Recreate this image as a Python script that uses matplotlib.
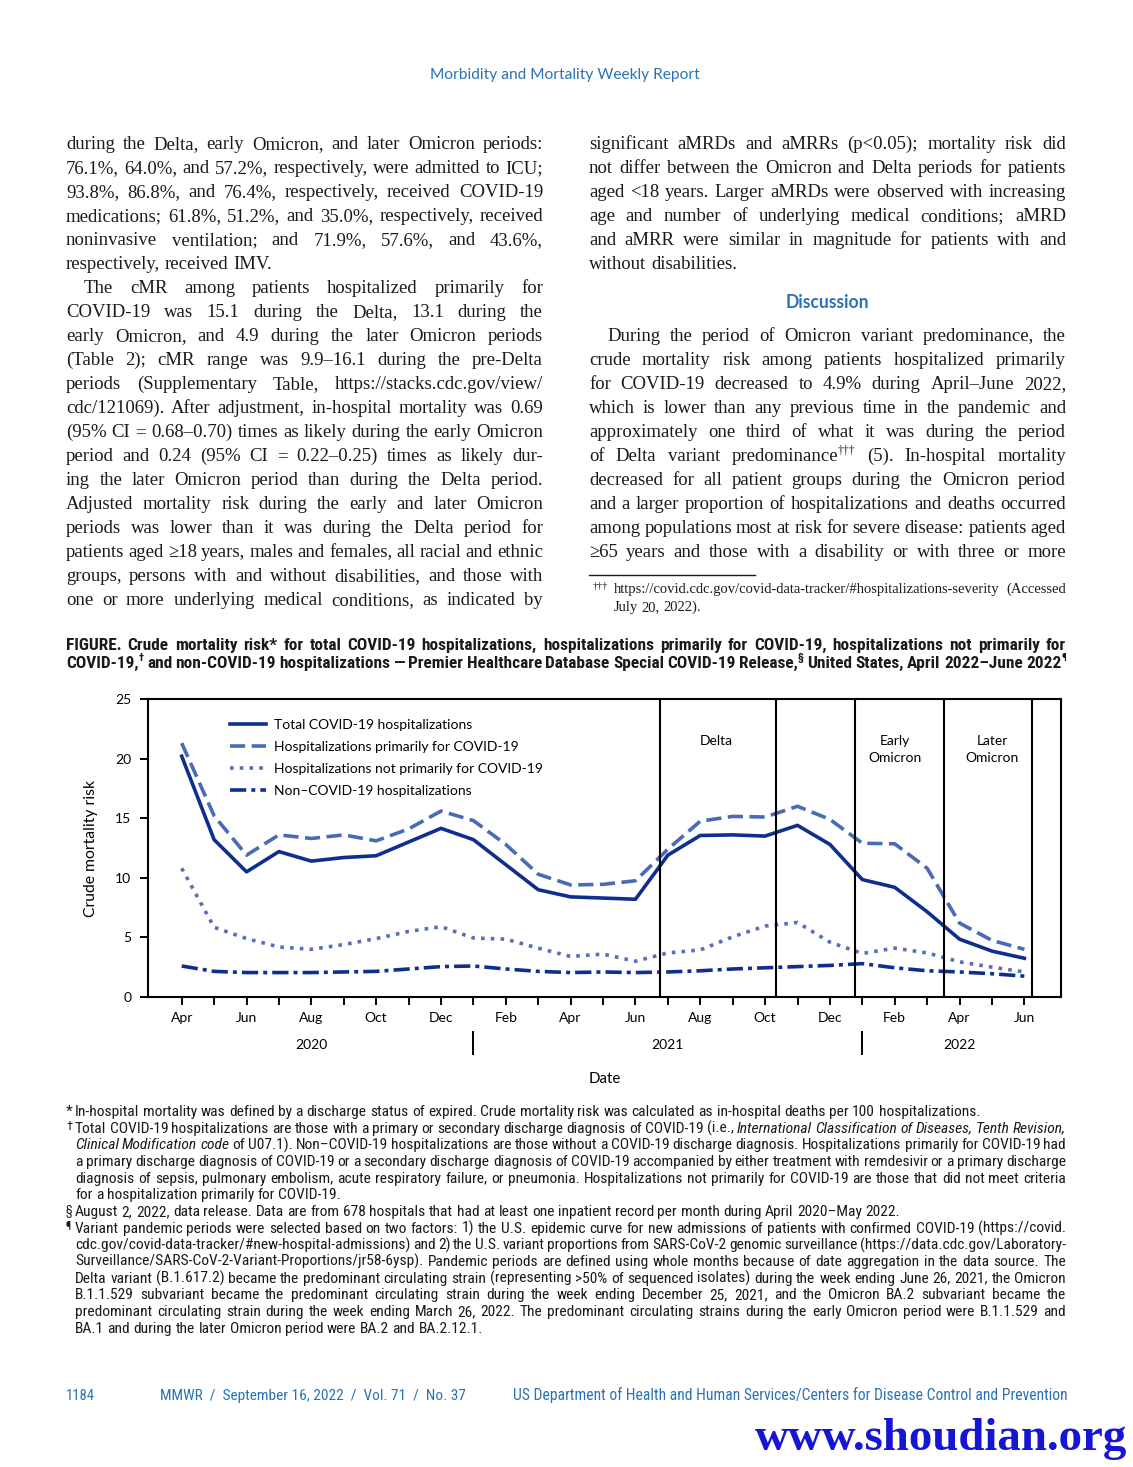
import numpy as np
import matplotlib
matplotlib.use("Agg")
import matplotlib.pyplot as plt
from matplotlib import font_manager as fm
from matplotlib.font_manager import FontProperties

# ---- chart data (monthly Apr 2020 - Jun 2022) ----
month_labels = ["Apr", "May", "Jun", "Jul", "Aug", "Sep", "Oct", "Nov", "Dec", "Jan", "Feb", "Mar",
                "Apr", "May", "Jun", "Jul", "Aug", "Sep", "Oct", "Nov", "Dec", "Jan", "Feb", "Mar",
                "Apr", "May", "Jun"]
total = [20.2, 13.2, 10.5, 12.2, 11.4, 11.7, 11.85, 13.0, 14.15, 13.2, 11.1, 9.0, 8.4, 8.3, 8.2,
         11.9, 13.55, 13.6, 13.5, 14.4, 12.8, 9.85, 9.2, 7.15, 4.85, 3.85, 3.25]
primarily = [21.3, 15.2, 11.9, 13.6, 13.3, 13.6, 13.1, 14.1, 15.6, 14.8, 12.8, 10.3, 9.4, 9.45, 9.75,
             12.4, 14.75, 15.15, 15.1, 16.0, 14.9, 12.9, 12.85, 10.8, 6.2, 4.75, 4.0]
not_primarily = [10.8, 5.85, 4.9, 4.2, 4.0, 4.4, 4.9, 5.5, 5.9, 4.95, 4.85, 4.1, 3.4, 3.6, 3.0,
                 3.7, 3.95, 5.05, 5.95, 6.25, 4.6, 3.65, 4.1, 3.7, 2.95, 2.5, 2.1]
non_covid = [2.6, 2.15, 2.05, 2.05, 2.05, 2.1, 2.15, 2.35, 2.55, 2.6, 2.35, 2.15, 2.05, 2.1, 2.05,
             2.1, 2.2, 2.35, 2.45, 2.55, 2.65, 2.8, 2.45, 2.2, 2.1, 1.95, 1.75]
series_labels = ["Total COVID-19 hospitalizations", "Hospitalizations primarily for COVID-19",
                 "Hospitalizations not primarily for COVID-19", "Non\u2013COVID-19 hospitalizations"]
period_bounds = [14.76, 18.34, 20.77, 23.52, 26.22]
period_names = ["Delta", "Early\nOmicron", "Later\nOmicron"]
period_centers = [16.5, 22.0, 25.0]
years = ["2020", "2021", "2022"]
year_centers = [4, 15, 24]
year_breaks = [9, 21]
yticks = [0, 5, 10, 15, 20, 25]

# ---- page text ----
header = "Morbidity and Mortality Weekly Report"
left_col = [
    "during the Delta, early Omicron, and later Omicron periods:",
    "76.1%, 64.0%, and 57.2%, respectively, were admitted to ICU;",
    "93.8%, 86.8%, and 76.4%, respectively, received COVID-19",
    "medications; 61.8%, 51.2%, and 35.0%, respectively, received",
    "noninvasive ventilation; and 71.9%, 57.6%, and 43.6%,",
    "respectively, received IMV.",
    "The cMR among patients hospitalized primarily for",
    "COVID-19 was 15.1 during the Delta, 13.1 during the",
    "early Omicron, and 4.9 during the later Omicron periods",
    "(Table 2); cMR range was 9.9\u201316.1 during the pre-Delta",
    "periods (Supplementary Table, https://stacks.cdc.gov/view/",
    "cdc/121069). After adjustment, in-hospital mortality was 0.69",
    "(95% CI = 0.68\u20130.70) times as likely during the early Omicron",
    "period and 0.24 (95% CI = 0.22\u20130.25) times as likely dur-",
    "ing the later Omicron period than during the Delta period.",
    "Adjusted mortality risk during the early and later Omicron",
    "periods was lower than it was during the Delta period for",
    "patients aged \u226518 years, males and females, all racial and ethnic",
    "groups, persons with and without disabilities, and those with",
    "one or more underlying medical conditions, as indicated by",
]
right_col = [
    "significant aMRDs and aMRRs (p<0.05); mortality risk did",
    "not differ between the Omicron and Delta periods for patients",
    "aged <18 years. Larger aMRDs were observed with increasing",
    "age and number of underlying medical conditions; aMRD",
    "and aMRR were similar in magnitude for patients with and",
    "without disabilities.",
    "During the period of Omicron variant predominance, the",
    "crude mortality risk among patients hospitalized primarily",
    "for COVID-19 decreased to 4.9% during April\u2013June 2022,",
    "which is lower than any previous time in the pandemic and",
    "approximately one third of what it was during the period",
    "of Delta variant predominance^\u2020\u2020\u2020 (5). In-hospital mortality",
    "decreased for all patient groups during the Omicron period",
    "and a larger proportion of hospitalizations and deaths occurred",
    "among populations most at risk for severe disease: patients aged",
    "\u226565 years and those with a disability or with three or more",
]
side_note = ["https://covid.cdc.gov/covid-data-tracker/#hospitalizations-severity (Accessed",
             "July 20, 2022)."]
title_lines = [
    "FIGURE. Crude mortality risk* for total COVID-19 hospitalizations, hospitalizations primarily for COVID-19, hospitalizations not primarily for",
    "COVID-19,^\u2020 and non-COVID-19 hospitalizations \u2014 Premier Healthcare Database Special COVID-19 Release,^\u00a7 United States, April 2022\u2013June 2022^\u00b6",
]
notes = [
    ("*", "In-hospital mortality was defined by a discharge status of expired. Crude mortality risk was calculated as in-hospital deaths per 100 hospitalizations.", False),
    ("\u2020", "Total COVID-19 hospitalizations are those with a primary or secondary discharge diagnosis of COVID-19 (i.e., ~International ~Classification ~of ~Diseases, ~Tenth ~Revision,", True),
    ("", "~Clinical ~Modification ~code of U07.1). Non\u2013COVID-19 hospitalizations are those without a COVID-19 discharge diagnosis. Hospitalizations primarily for COVID-19 had", True),
    ("", "a primary discharge diagnosis of COVID-19 or a secondary discharge diagnosis of COVID-19 accompanied by either treatment with remdesivir or a primary discharge", True),
    ("", "diagnosis of sepsis, pulmonary embolism, acute respiratory failure, or pneumonia. Hospitalizations not primarily for COVID-19 are those that did not meet criteria", True),
    ("", "for a hospitalization primarily for COVID-19.", False),
    ("\u00a7", "August 2, 2022, data release. Data are from 678 hospitals that had at least one inpatient record per month during April 2020\u2013May 2022.", False),
    ("\u00b6", "Variant pandemic periods were selected based on two factors: 1) the U.S. epidemic curve for new admissions of patients with confirmed COVID-19 (https://covid.", True),
    ("", "cdc.gov/covid-data-tracker/#new-hospital-admissions) and 2) the U.S. variant proportions from SARS-CoV-2 genomic surveillance (https://data.cdc.gov/Laboratory-", True),
    ("", "Surveillance/SARS-CoV-2-Variant-Proportions/jr58-6ysp). Pandemic periods are defined using whole months because of date aggregation in the data source. The", True),
    ("", "Delta variant (B.1.617.2) became the predominant circulating strain (representing >50% of sequenced isolates) during the week ending June 26, 2021, the Omicron", True),
    ("", "B.1.1.529 subvariant became the predominant circulating strain during the week ending December 25, 2021, and the Omicron BA.2 subvariant became the", True),
    ("", "predominant circulating strain during the week ending March 26, 2022. The predominant circulating strains during the early Omicron period were B.1.1.529 and", True),
    ("", "BA.1 and during the later Omicron period were BA.2 and BA.2.12.1.", False),
]
footer_parts = ["1184", "MMWR  /  September 16, 2022  /  Vol. 71  /  No. 37",
                "US Department of Health and Human Services/Centers for Disease Control and Prevention"]

NAVY = "#0f2f8e"
MIDBLUE = "#4a6ab5"
DOTBLUE = "#5a6dbb"
PAGEBLUE = "#2a72b5"
INK = "#1a1a1a"

SERIF = ["Liberation Serif", "DejaVu Serif"]
SANS = ["Lato", "DejaVu Sans"]

# look for an installed narrow / condensed sans for the caption and footnotes
NARROW, NARROW_STRETCH = ["Liberation Sans", "DejaVu Sans"], "normal"
for f in fm.fontManager.ttflist:
    fn = f.fname.lower()
    if ("narrow" in fn or "condensed" in fn) and "serif" not in fn and "mono" not in fn:
        NARROW, NARROW_STRETCH = [f.name, "Liberation Sans", "DejaVu Sans"], f.stretch
        if "liberation" in fn:
            break

W, H = 1133, 1467
fig = plt.figure(figsize=(W / 100, H / 100), dpi=100)
page = fig.add_axes([0, 0, 1, 1])
page.set_xlim(0, W)
page.set_ylim(H, 0)
page.axis("off")
R = fig.canvas.get_renderer()


def fp_of(family, size, weight="normal", style="normal"):
    stretch = NARROW_STRETCH if family is NARROW else "normal"
    return FontProperties(family=family, size=size, weight=weight, style=style, stretch=stretch)


def text_w(s, fp):
    return R.get_text_width_height_descent(s, fp, ismath=False)[0]


def parse(tok):
    ital = tok.startswith("~")
    if ital:
        tok = tok[1:]
    base, _, sup = tok.partition("^")
    return base, sup, ital


def tok_w(tok, fam, size, weight):
    base, sup, ital = parse(tok)
    fp = fp_of(fam, size, weight, "italic" if ital else "normal")
    w = text_w(base, fp) if base else 0
    if sup:
        w += text_w(sup, fp_of(fam, size * 0.62, weight))
    return w


def block_size(rows, x1, fam, size, weight="normal", slack=0.85):
    # shrink the block font until every justified row fits
    scale = 1.0
    for x0, s, just in rows:
        toks = s.split(" ")
        nat = sum(tok_w(t, fam, size, weight) for t in toks)
        nat += slack * text_w(" ", fp_of(fam, size, weight)) * (len(toks) - 1)
        scale = min(scale, (x1 - x0) / nat)
    return size * scale


def draw_row(x0, x1, y, s, fam, size, weight="normal", color=INK, justify=True):
    toks = s.split(" ")
    ws = [tok_w(t, fam, size, weight) for t in toks]
    sp = text_w(" ", fp_of(fam, size, weight))
    gap = (x1 - x0 - sum(ws)) / (len(toks) - 1) if (justify and len(toks) > 1) else sp
    x = x0
    px = size * 100 / 72
    for t, w in zip(toks, ws):
        base, sup, ital = parse(t)
        fp = fp_of(fam, size, weight, "italic" if ital else "normal")
        if base:
            page.text(x, y, base, fontproperties=fp, color=color, va="baseline", ha="left")
        if sup:
            bw = text_w(base, fp) if base else 0
            page.text(x + bw, y - 0.38 * px, sup, fontproperties=fp_of(fam, size * 0.62, weight),
                      color=color, va="baseline", ha="left")
        x += w + gap


def fit_text(x0, x1, y, s, fam, weight="normal", color=INK, style="normal"):
    size = 10.0
    for _ in range(3):
        size *= (x1 - x0) / text_w(s, fp_of(fam, size, weight, style))
    page.text(x0, y, s, fontproperties=fp_of(fam, size, weight, style), color=color,
              va="baseline", ha="left")


# ---- header ----
fit_text(430, 700, 79, header, SANS, color=PAGEBLUE)

# ---- body columns ----
lx0, lx1, rx0, rx1 = 66, 543, 589, 1066
base_y, lead = 149, 24
left_rows = []
for i, s in enumerate(left_col):
    x0 = lx0 + 18 if i == 6 else lx0
    left_rows.append((x0, s, i != 5))
right_rows = []
for i, s in enumerate(right_col):
    x0 = rx0 + 18 if i == 6 else rx0
    right_rows.append((x0, s, i != 5))
body_size = min(block_size(left_rows, lx1, SERIF, 15), block_size(right_rows, rx1, SERIF, 15))
for i, (x0, s, j) in enumerate(left_rows):
    draw_row(x0, lx1, base_y + i * lead, s, SERIF, body_size, justify=j)
for i, (x0, s, j) in enumerate(right_rows):
    k = i if i < 6 else i + 2
    draw_row(x0, rx1, base_y + k * lead, s, SERIF, body_size, justify=j)
fit_text(786, 870, 308, "Discussion", SANS, weight="bold", color=PAGEBLUE)

# side footnote under right column
page.plot([589, 755], [575, 575], color=INK, lw=1.0)
note_rows = [(614, side_note[0], True), (614, side_note[1], False)]
ns = block_size(note_rows, rx1, SERIF, 11)
page.text(593, 588, "\u2020\u2020\u2020", fontproperties=fp_of(SERIF, ns * 0.7), color=INK, va="baseline")
draw_row(614, rx1, 593, side_note[0], SERIF, ns, justify=True)
draw_row(614, rx1, 611, side_note[1], SERIF, ns, justify=False)

# ---- figure title ----
t_rows = [(66, s, True) for s in title_lines]
ts = block_size(t_rows, 1066, NARROW, 13.5, weight="bold")
for i, s in enumerate(title_lines):
    draw_row(66, 1066, 650 + i * 18, s, NARROW, ts, weight="bold", justify=True)

# ---- chart ----
ax = fig.add_axes([148 / W, 1 - 997 / H, (1061 - 148) / W, (997 - 699) / H])
x = np.arange(len(month_labels))
ax.plot(x, total, color=NAVY, lw=2.6, label=series_labels[0])
ax.plot(x, primarily, color=MIDBLUE, lw=2.6, dashes=(4.2, 1.8), label=series_labels[1])
ax.plot(x, not_primarily, color=DOTBLUE, lw=2.6, dashes=(1.0, 1.7), label=series_labels[2])
ax.plot(x, non_covid, color=NAVY, lw=2.6, dashes=(4.5, 1.4, 1.1, 1.4), label=series_labels[3])

for b in period_bounds:
    ax.axvline(b, color="black", lw=1.5)
chart_fp = fp_of(SANS, 10)
for name, c in zip(period_names, period_centers):
    ax.text(c, 21.95, name, fontproperties=chart_fp, ha="center", va="top", linespacing=1.45)

ax.set_xlim(-1.04, 27.13)
ax.set_ylim(0, 25)
ax.set_xticks(x)
ax.set_xticklabels([m if i % 2 == 0 else "" for i, m in enumerate(month_labels)])
ax.set_yticks(yticks)
for lab in ax.get_xticklabels() + ax.get_yticklabels():
    lab.set_fontproperties(chart_fp)
ax.tick_params(axis="both", direction="out", length=6, width=1.4, color="black")
ax.tick_params(axis="x", pad=5)
ax.tick_params(axis="y", pad=6)
for sp in ax.spines.values():
    sp.set_linewidth(1.5)

xt = ax.get_xaxis_transform()
for yr, c in zip(years, year_centers):
    ax.text(c, -0.161, yr, transform=xt, fontproperties=chart_fp, ha="center", va="center")
for b in year_breaks:
    ax.plot([b, b], [-0.117, -0.19], transform=xt, clip_on=False, color="black", lw=1.4)
ax.text(0.5, -0.275, "Date", transform=ax.transAxes, fontproperties=fp_of(SANS, 10.8),
        ha="center", va="center")
ax.text(-0.062, 0.5, "Crude mortality risk", transform=ax.transAxes, rotation=90,
        fontproperties=fp_of(SANS, 11.3), ha="center", va="center")

ax.legend(loc="upper left", bbox_to_anchor=(0.0898, 0.933), frameon=False, prop=fp_of(SANS, 10),
          handlelength=2.6, handletextpad=0.55, labelspacing=0.72, borderpad=0, borderaxespad=0)

# ---- figure footnotes ----
note_rows = [(75, s, j) for _, s, j in notes]
fs = block_size(note_rows, 1066, NARROW, 13)
for i, (mark, s, j) in enumerate(notes):
    y = 1116 + i * 16.67
    if mark:
        msize = fs if mark == "*" else fs * 0.8
        page.text(66, y - (0 if mark == "*" else 3), mark, fontproperties=fp_of(NARROW, msize),
                  color=INK, va="baseline")
    draw_row(75, 1066, y, s, NARROW, fs, justify=j)

# ---- page footer and stamp ----
fit_text(66, 95, 1400, footer_parts[0], NARROW, color=PAGEBLUE)
fit_text(160, 466, 1400, footer_parts[1], NARROW, color=PAGEBLUE)
fit_text(513, 1066, 1400, footer_parts[2], NARROW, color=PAGEBLUE)
fit_text(755, 1128, 1450, "www.shoudian.org", SERIF, weight="bold", color="#1515d6")

plt.savefig("out.png", dpi=100)
plt.close()
